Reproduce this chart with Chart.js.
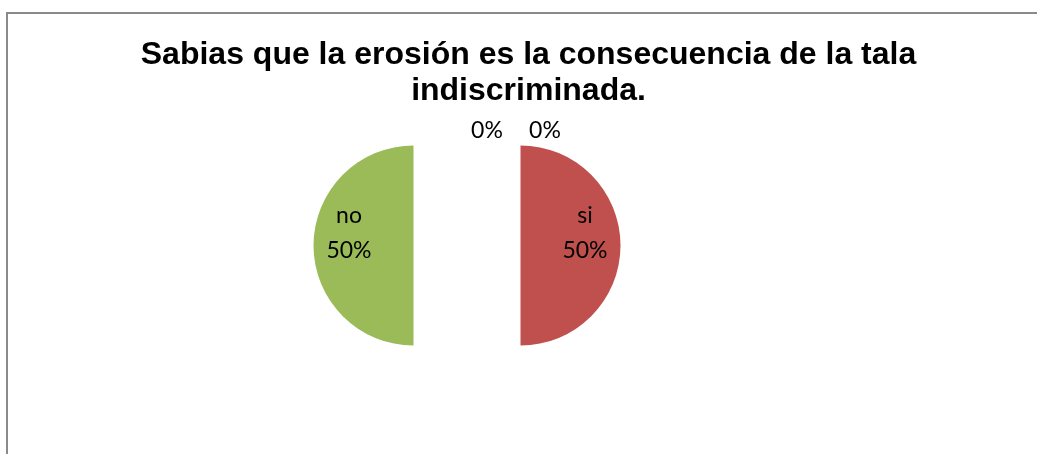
<!DOCTYPE html>
<html>
<head>
<meta charset="utf-8">
<script src="https://cdn.jsdelivr.net/npm/chart.js"></script>
<style>
    html, body { margin: 0; padding: 0; background: #fff; overflow: hidden; }
    #frame {
        position: absolute; left: 6px; top: 12px; width: 1100px; height: 500px;
        border-left: 2px solid #8a8a8a; border-top: 2px solid #8a8a8a;
    }
    #wrap { position: absolute; left: 0; top: 0; width: 1037px; height: 454px; }
</style>
</head>
<body>
<div id="frame"></div>
<div id="wrap"><canvas id="pie-chart"></canvas></div>
<script>
// Datos del gráfico
const titleLines = ['Sabias que la erosión es la consecuencia de la tala', 'indiscriminada.'];
const categories = ['si', 'no', '', ''];
const values = [50, 50, 0, 0];
const sliceColors = ['#C0504D', '#9BBB59', '#4F81BD', '#8064A2'];

const EXPLODE = 53.5;        // separación de las porciones
const zeroLabelShift = [20, 78]; // desplazamiento horizontal de las etiquetas 0%

// Dibuja las porciones desplazadas desde el centro (sin la muesca del offset nativo)
const explodePlugin = {
    id: 'explode',
    beforeDatasetDraw(chart, args) {
        const ctx = chart.ctx;
        args.meta.data.forEach(arc => {
            const mid = (arc.startAngle + arc.endAngle) / 2;
            ctx.save();
            ctx.translate(Math.cos(mid) * EXPLODE, Math.sin(mid) * EXPLODE);
            arc.draw(ctx);
            ctx.restore();
        });
        return false;
    }
};

// Etiquetas de datos: categoría + porcentaje
const labelsPlugin = {
    id: 'pieLabels',
    afterDatasetsDraw(chart) {
        const ctx = chart.ctx;
        const meta = chart.getDatasetMeta(0);
        const total = values.reduce((a, b) => a + b, 0);
        let zeroIdx = 0;
        ctx.save();
        ctx.fillStyle = '#000';
        ctx.font = '23px Lato';
        ctx.textAlign = 'center';
        ctx.textBaseline = 'alphabetic';
        meta.data.forEach((arc, i) => {
            const pct = Math.round(values[i] / total * 100) + '%';
            const mid = (arc.startAngle + arc.endAngle) / 2;
            const r = arc.outerRadius;
            if (values[i] > 0) {
                const d = EXPLODE + r * 0.645;
                const lx = arc.x + Math.cos(mid) * d;
                const ly = arc.y + Math.sin(mid) * d;
                ctx.fillText(categories[i], lx, ly - 23);
                ctx.fillText(pct, lx, ly + 12);
            } else {
                const lx = arc.x + Math.cos(mid) * r + zeroLabelShift[zeroIdx++];
                const ly = arc.y + Math.sin(mid) * (r + 8);
                ctx.fillText(pct, lx, ly);
            }
        });
        ctx.restore();
    }
};

// Título en dos líneas
const titlePlugin = {
    id: 'chartTitle',
    afterDraw(chart) {
        const ctx = chart.ctx;
        ctx.save();
        ctx.fillStyle = '#000';
        ctx.font = 'bold 32px "Liberation Sans", Arial, sans-serif';
        ctx.textAlign = 'center';
        ctx.textBaseline = 'alphabetic';
        titleLines.forEach((line, i) => ctx.fillText(line, 528.5, 64 + i * 36));
        ctx.restore();
    }
};

const ctx = document.getElementById('pie-chart').getContext('2d');
new Chart(ctx, {
    type: 'pie',
    data: {
        labels: categories,
        datasets: [{
            data: values,
            backgroundColor: sliceColors,
            borderWidth: 0,
            hoverOffset: 0,
            radius: 100
        }]
    },
    options: {
        responsive: true,
        maintainAspectRatio: false,
        animation: false,
        events: [],
        layout: { padding: { left: 17, right: 120, top: 127, bottom: 90 } },
        plugins: {
            legend: { display: false },
            title: { display: false },
            tooltip: { enabled: false }
        }
    },
    plugins: [explodePlugin, labelsPlugin, titlePlugin]
});
</script>
</body>
</html>
